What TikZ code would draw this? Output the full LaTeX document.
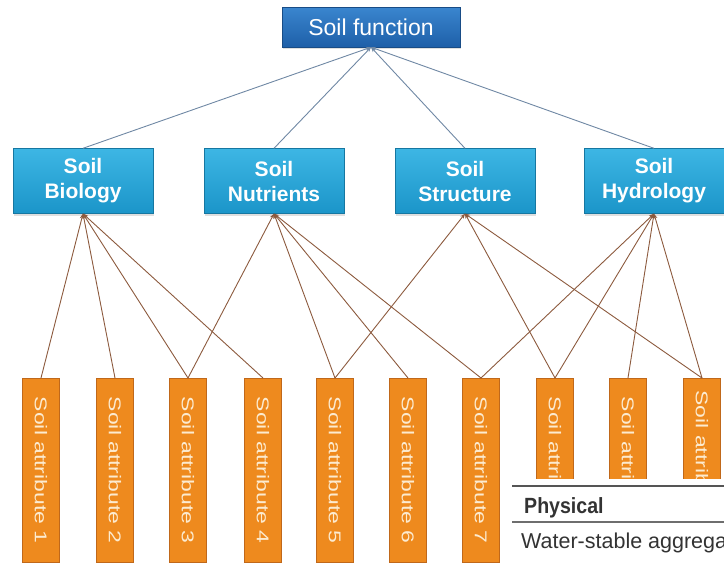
\documentclass[tikz,border=0pt]{standalone}
\usepackage{fontspec}
\setmainfont{Liberation Sans}
\usetikzlibrary{arrows.meta,shadows}
\definecolor{topA}{HTML}{3A86CF}
\definecolor{topB}{HTML}{1E5FA8}
\definecolor{midA}{HTML}{3DB6E4}
\definecolor{midB}{HTML}{1B95C9}
\definecolor{attr}{HTML}{EE8A1E}
\definecolor{attrEdge}{HTML}{C0681A}
\definecolor{attrText}{HTML}{FCEBD0}
\definecolor{upline}{HTML}{6F88A4}
\definecolor{lowline}{HTML}{8C5A3E}
\definecolor{tabline}{HTML}{555555}
\definecolor{tabtext}{HTML}{333333}
\begin{document}
\begin{tikzpicture}[x=1pt,y=-1pt,
  topbox/.style={draw=topB!80!black, top color=topA, bottom color=topB,
    minimum width=178pt, minimum height=40pt, inner sep=0pt, text=white,
    drop shadow={opacity=0.25, shadow xshift=1pt, shadow yshift=-2pt},
    font=\fontsize{23}{23}\selectfont},
  midbox/.style={draw=midB!80!black, top color=midA, bottom color=midB,
    minimum width=140pt, minimum height=65pt, inner sep=0pt, text=white,
    drop shadow={opacity=0.25, shadow xshift=1pt, shadow yshift=-2pt},
    font=\fontsize{21}{25}\selectfont\bfseries, align=center},
  attrbox/.style={rotate=-90, anchor=west, draw=attrEdge, fill=attr,
    minimum width=184pt, minimum height=37pt, inner sep=0pt, text=attrText,
    font=\fontsize{17}{17}\selectfont},
  upconn/.style={draw=upline, line width=0.9pt, -{Stealth[length=5pt,width=4pt]}},
  lowconn/.style={draw=lowline, line width=0.9pt, -{Stealth[length=5pt,width=4pt]}},
  tabtxt/.style={anchor=base west, inner sep=0pt, text=tabtext},
]
\path[use as bounding box] (0,0) rectangle (724,563);

\node[topbox] (sf) at (371,27) {Soil function};
\node[midbox] (bio) at (83,181) {Soil\\Biology};
\node[midbox] (nut) at (274,181) {Soil\\Nutrients};
\node[midbox] (str) at (465,181) {Soil\\Structure};
\node[midbox] (hyd) at (654,181) {Soil\\Hydrology};

\foreach \i/\x in {1/41,2/115,3/188,4/263,5/335,6/408,7/481,8/555,9/628,10/702}
  \node[attrbox] (a\i) at (\x,378) {\scalebox{1.35}[1]{Soil attribute \i}};

\draw[upconn] (bio.north) -- (sf.south);
\draw[upconn] (nut.north) -- (sf.south);
\draw[upconn] (str.north) -- (sf.south);
\draw[upconn] (hyd.north) -- (sf.south);

\foreach \a in {1,2,3,4} \draw[lowconn] (a\a.west) -- (bio.south);
\foreach \a in {3,5,6,7} \draw[lowconn] (a\a.west) -- (nut.south);
\foreach \a in {5,8,10} \draw[lowconn] (a\a.west) -- (str.south);
\foreach \a in {7,8,9,10} \draw[lowconn] (a\a.west) -- (hyd.south);

\fill[white] (506,479) rectangle (724,563);
\draw[tabline, line width=2pt] (512,486) -- (724,486);
\draw[tabline!85, line width=1.3pt] (512,522) -- (724,522);
\begin{scope}
\clip (506,479) rectangle (724,563);
\node[tabtxt, font=\fontsize{22}{22}\selectfont\bfseries] (phys) at (524,513) {\scalebox{0.89}[1]{Physical}};
\node[tabtxt, font=\fontsize{21.5}{21.5}\selectfont] (wsa) at (521,548) {Water-stable aggregates};
\end{scope}
\end{tikzpicture}
\end{document}
